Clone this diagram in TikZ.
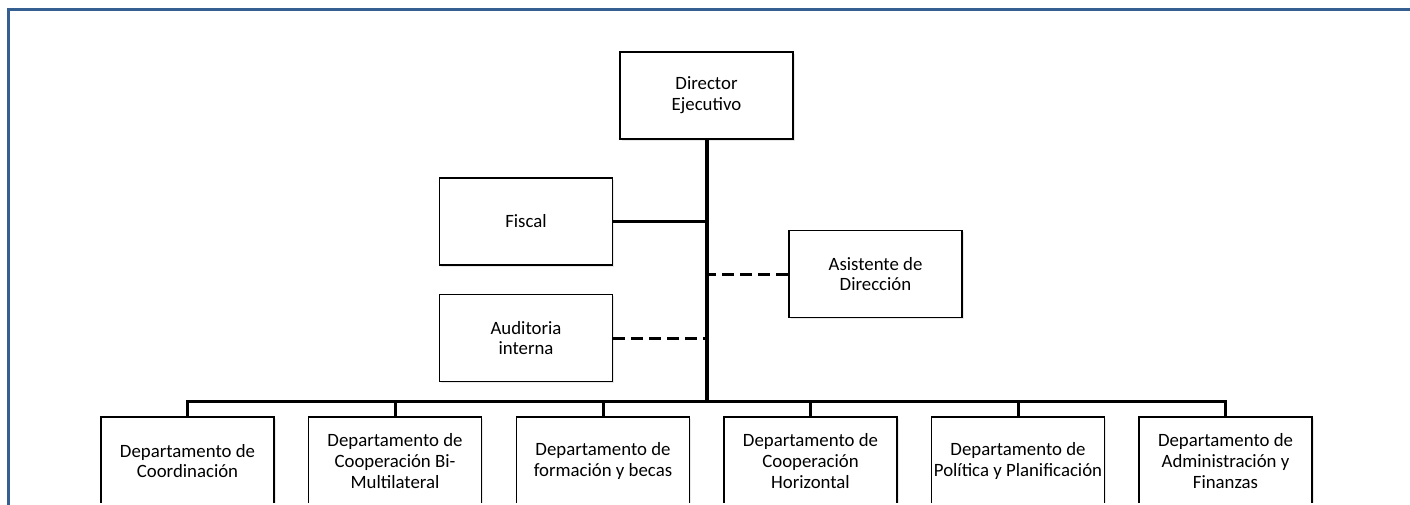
\documentclass[tikz,border=0pt]{standalone}
\usepackage{fontspec}
\setmainfont{Carlito}
\usetikzlibrary{shadows}
\definecolor{frameblue}{RGB}{54,95,145}

\begin{document}
\begin{tikzpicture}[x=0.5pt,y=-0.5pt,
            box/.style={draw,line width=0.8pt,fill=white,minimum width=86.5pt,minimum height=43.5pt,inner sep=0pt,align=center,font=\fontsize{9.4}{10.4}\selectfont,drop shadow={opacity=0.18,shadow xshift=0.8pt,shadow yshift=-0.8pt}},
            link/.style={line width=1.5pt},
            dashlink/.style={line width=1.5pt,dash pattern=on 6pt off 3pt}]
            \useasboundingbox (0,0) rectangle (1410,504);
            \clip (0,0) rectangle (1410,504);
            \draw[frameblue,line width=1.6pt] (8.5,520) -- (8.5,9.5) -- (1420,9.5);
            \node[box] (DE) at (706.5,95.5) {Director\\Ejecutivo};
            \node[box] (F) at (526,221.5) {Fiscal};
            \node[box] (AD) at (875.5,274) {Asistente de\\Dirección};
            \node[box] (AI) at (526,338) {Auditoria\\interna};
            % departamentos: cortados por el borde inferior
            \begin{scope}
                \clip (0,0) rectangle (1410,502);
                \node[box,minimum height=44pt] (D1) at (187.5,461) {Departamento de\\Coordinación};
                \node[box,minimum height=44pt] (D2) at (395,461) {Departamento de\\Cooperación Bi-\\Multilateral};
                \node[box,minimum height=44pt] (D3) at (603,461) {Departamento de\\formación y becas};
                \node[box,minimum height=44pt] (D4) at (810.5,461) {Departamento de\\Cooperación\\Horizontal};
                \node[box,minimum height=44pt] (D5) at (1018,461) {Departamento de\\Política y Planificación};
                \node[box,minimum height=44pt] (D6) at (1225.5,461) {Departamento de\\Administración y\\Finanzas};
            \end{scope}
            \coordinate (bus) at (706.5,401);
            \draw[link,line width=2pt] (DE) -- (bus);
            \draw[link] (F.east) -- (F.east -| DE.south);
            \draw[dashlink] (AI.east) -- (AI.east -| DE.south);
            \draw[dashlink] (AD.west) -- (AD.west -| DE.south);
            \draw[link] (D1.north) -- (D1.north |- bus) -- (D6.north |- bus) -- (D6.north);
            \foreach \i in {2,3,4,5}
                \draw[link] (D\i.north) -- (D\i.north |- bus);
        \end{tikzpicture}
\end{document}
